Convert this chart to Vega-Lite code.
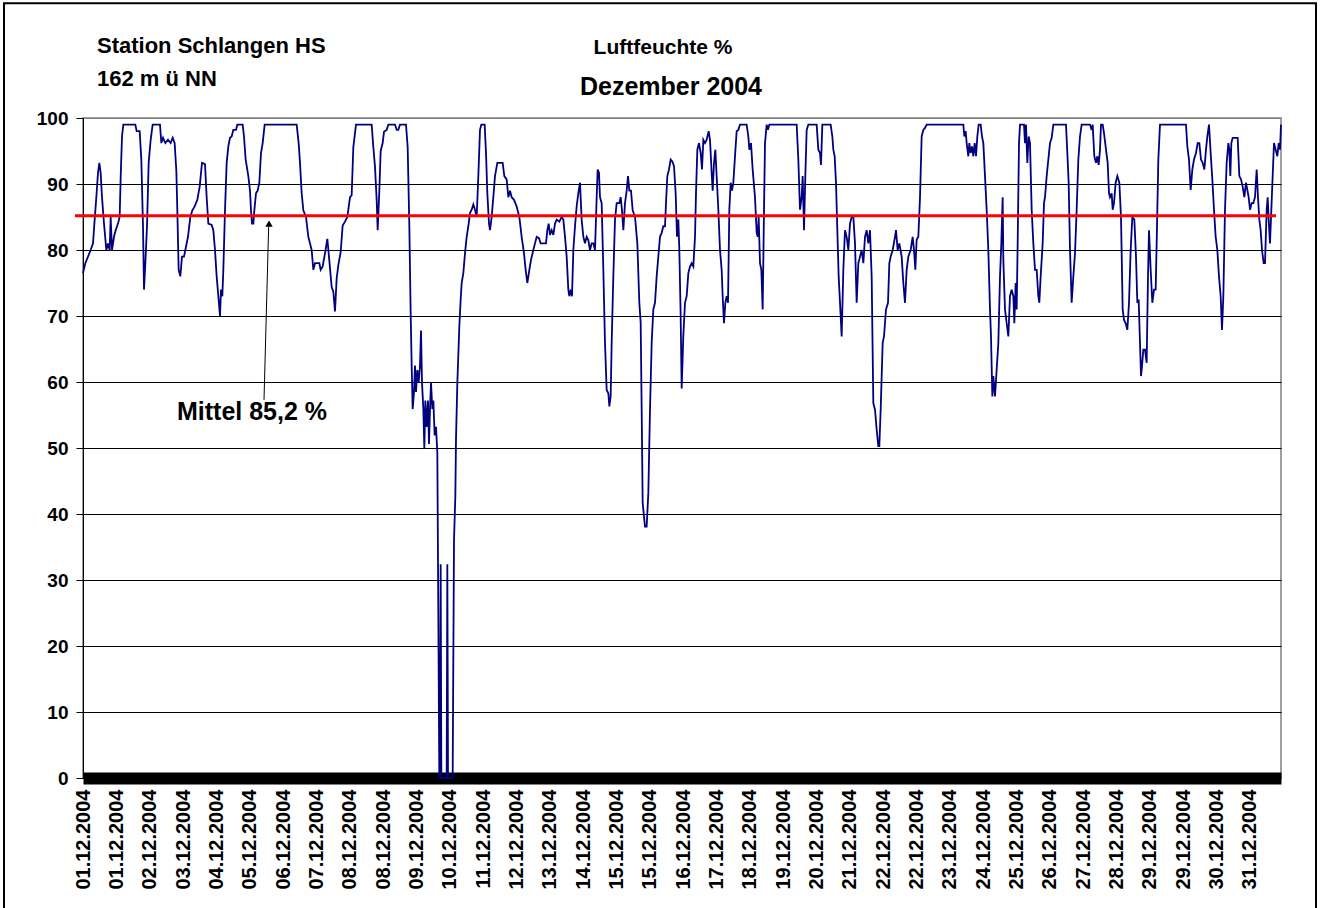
{
"$schema":"https://vega.github.io/schema/vega-lite/v6.json",
"width":1198,"height":660,
"autosize":{"type":"none"},
"padding":{"left":83,"top":118,"right":46,"bottom":130},
"background":"white",
"config":{"view":{"stroke":"#808080","strokeWidth":1.5},"font":"Liberation Sans"},
"layer":[
{"data":{"values":[
{"n":0,"rh":76.5},{"n":7,"rh":78},{"n":15,"rh":79},{"n":23,"rh":80},{"n":30,"rh":81},{"n":35,"rh":84.6},{"n":40,"rh":88},{"n":45,"rh":91.7},{"n":49,"rh":93.2},{"n":53,"rh":91.7},{"n":57,"rh":88},{"n":63,"rh":84},{"n":70,"rh":80},{"n":75,"rh":81},{"n":80,"rh":80},{"n":83,"rh":85},{"n":87,"rh":80},{"n":93,"rh":82},{"n":98,"rh":83},{"n":105,"rh":84},{"n":110,"rh":85},{"n":113,"rh":91},{"n":117,"rh":97.2},{"n":121,"rh":99},{"n":157,"rh":99},{"n":161,"rh":98},{"n":170,"rh":98},{"n":175,"rh":93.7},{"n":180,"rh":83.6},{"n":183,"rh":74},{"n":187,"rh":78},{"n":192,"rh":83.6},{"n":197,"rh":93.2},{"n":203,"rh":96.7},{"n":209,"rh":99},{"n":231,"rh":99},{"n":235,"rh":96.2},{"n":240,"rh":97},{"n":247,"rh":96.2},{"n":255,"rh":96.7},{"n":263,"rh":96.2},{"n":269,"rh":97},{"n":275,"rh":96.2},{"n":280,"rh":92},{"n":283,"rh":86},{"n":287,"rh":77},{"n":292,"rh":76},{"n":297,"rh":79},{"n":303,"rh":79},{"n":307,"rh":80},{"n":315,"rh":82},{"n":322,"rh":85},{"n":328,"rh":86},{"n":335,"rh":86.6},{"n":343,"rh":87.6},{"n":350,"rh":89.6},{"n":357,"rh":93.2},
{"n":366,"rh":93},{"n":371,"rh":88},{"n":376,"rh":84},{"n":386,"rh":83.8},{"n":391,"rh":83},{"n":396,"rh":80},{"n":401,"rh":76},{"n":406,"rh":73},{"n":411,"rh":70},{"n":414,"rh":74},{"n":418,"rh":73},{"n":421,"rh":77},{"n":426,"rh":86},{"n":431,"rh":93.2},{"n":436,"rh":95.7},{"n":441,"rh":97},{"n":446,"rh":97.2},{"n":451,"rh":98.2},{"n":459,"rh":98.2},{"n":463,"rh":99},{"n":479,"rh":99},{"n":483,"rh":97.2},{"n":488,"rh":93.7},{"n":496,"rh":91.2},{"n":501,"rh":89},{"n":504,"rh":86},{"n":507,"rh":84},{"n":511,"rh":84},{"n":514,"rh":86},{"n":519,"rh":88.6},{"n":524,"rh":89},{"n":529,"rh":90.2},{"n":534,"rh":94.7},{"n":539,"rh":96.2},{"n":545,"rh":99},{"n":641,"rh":99},{"n":647,"rh":96.2},{"n":651,"rh":93.2},{"n":656,"rh":88.6},{"n":661,"rh":86},{"n":669,"rh":85},{"n":676,"rh":82},{"n":681,"rh":81},{"n":686,"rh":80},{"n":691,"rh":77},{"n":696,"rh":78},{"n":709,"rh":78},{"n":713,"rh":77},{"n":719,"rh":77.5},
{"n":726,"rh":79.5},{"n":733,"rh":81.7},{"n":739,"rh":78.4},{"n":746,"rh":74.4},{"n":751,"rh":73.7},{"n":756,"rh":70.7},{"n":761,"rh":75.7},{"n":766,"rh":77.7},{"n":773,"rh":79.7},{"n":779,"rh":83.7},{"n":786,"rh":84.3},{"n":793,"rh":85},{"n":801,"rh":88},{"n":806,"rh":88.3},{"n":811,"rh":95.6},{"n":819,"rh":99},{"n":866,"rh":99},{"n":871,"rh":95.6},{"n":876,"rh":92.6},{"n":881,"rh":87.6},{"n":884,"rh":83},{"n":889,"rh":89},{"n":893,"rh":95},{"n":899,"rh":96.2},{"n":903,"rh":97.9},{"n":911,"rh":98.2},{"n":916,"rh":99},{"n":936,"rh":99},{"n":941,"rh":98.2},{"n":946,"rh":98.2},{"n":951,"rh":99},{"n":969,"rh":99},{"n":974,"rh":95.6},{"n":979,"rh":83.7},{"n":983,"rh":70.4},{"n":986,"rh":62.5},{"n":989,"rh":55.9},{"n":993,"rh":58.5},{"n":996,"rh":62.5},{"n":999,"rh":58.5},{"n":1003,"rh":61.8},{"n":1007,"rh":59.9},{"n":1011,"rh":62.5},{"n":1014,"rh":67.8},{"n":1017,"rh":59.9},{"n":1021,"rh":55.9},{"n":1024,"rh":49.9},{"n":1027,"rh":57.2},{"n":1031,"rh":53.2},{"n":1035,"rh":57.2},{"n":1038,"rh":50.6},{"n":1041,"rh":55.9},{"n":1044,"rh":59.9},{"n":1048,"rh":55.9},{"n":1051,"rh":57.2},{"n":1055,"rh":51.9},{"n":1059,"rh":53.2},{"n":1063,"rh":49.3},{"n":1069,"rh":0},{"n":1071,"rh":0},{"n":1073,"rh":32.4},{"n":1075,"rh":0},{"n":1091,"rh":0},{"n":1093,"rh":32.4},{"n":1095,"rh":0},{"n":1109,"rh":0},{"n":1113,"rh":36},{"n":1117,"rh":42.7},{"n":1119,"rh":51.3},{"n":1123,"rh":59.8},{"n":1129,"rh":68.4},{"n":1133,"rh":72.5},{"n":1136,"rh":75},{"n":1141,"rh":76.5},{"n":1146,"rh":79.5},{"n":1151,"rh":82},{"n":1156,"rh":83.6},{"n":1161,"rh":85.6},
{"n":1166,"rh":86.1},{"n":1171,"rh":86.9},{"n":1176,"rh":86.1},{"n":1181,"rh":85},{"n":1186,"rh":91.2},{"n":1191,"rh":98.2},{"n":1195,"rh":99},{"n":1205,"rh":99},{"n":1209,"rh":94.7},{"n":1213,"rh":88.6},{"n":1218,"rh":84},{"n":1221,"rh":83},{"n":1226,"rh":85},{"n":1231,"rh":88},{"n":1236,"rh":91.2},{"n":1243,"rh":93.2},{"n":1259,"rh":93.2},{"n":1264,"rh":91.2},{"n":1271,"rh":90.7},{"n":1276,"rh":88},{"n":1281,"rh":89},{"n":1286,"rh":88},{"n":1293,"rh":87.6},{"n":1301,"rh":86.6},{"n":1309,"rh":85},{"n":1316,"rh":82},{"n":1323,"rh":79.5},{"n":1328,"rh":77},{"n":1333,"rh":75},{"n":1339,"rh":77},{"n":1344,"rh":78.5},{"n":1351,"rh":80},{"n":1356,"rh":81},{"n":1361,"rh":82},{"n":1368,"rh":81.8},{"n":1373,"rh":81},{"n":1389,"rh":81},{"n":1393,"rh":83},{"n":1397,"rh":84},{"n":1401,"rh":82.3},{"n":1406,"rh":83},{"n":1411,"rh":82.3},{"n":1416,"rh":84},{"n":1421,"rh":84.6},{"n":1429,"rh":84.3},{"n":1436,"rh":85},{"n":1441,"rh":84.6},
{"n":1446,"rh":82},{"n":1451,"rh":79},{"n":1456,"rh":74},{"n":1459,"rh":73},{"n":1463,"rh":74},{"n":1467,"rh":73},{"n":1471,"rh":80},{"n":1476,"rh":83.6},{"n":1481,"rh":86.6},{"n":1486,"rh":88.6},{"n":1491,"rh":90.2},{"n":1496,"rh":84.6},{"n":1501,"rh":82},{"n":1506,"rh":81},{"n":1511,"rh":82},{"n":1516,"rh":81.5},{"n":1521,"rh":80},{"n":1526,"rh":81},{"n":1531,"rh":81},{"n":1536,"rh":80},{"n":1541,"rh":88},{"n":1544,"rh":92.2},{"n":1548,"rh":91.7},{"n":1551,"rh":88},{"n":1556,"rh":87.1},{"n":1561,"rh":77},{"n":1566,"rh":65.9},{"n":1571,"rh":58.8},{"n":1576,"rh":58.3},{"n":1579,"rh":56.3},{"n":1583,"rh":57.8},{"n":1586,"rh":65.9},{"n":1591,"rh":76},{"n":1596,"rh":84.6},{"n":1601,"rh":87.1},{"n":1609,"rh":87.1},{"n":1613,"rh":88},{"n":1617,"rh":86},{"n":1621,"rh":83},{"n":1626,"rh":87.1},{"n":1631,"rh":89},{"n":1635,"rh":91.2},{"n":1639,"rh":89},{"n":1644,"rh":89},{"n":1649,"rh":86},{"n":1656,"rh":85},{"n":1663,"rh":81},{"n":1669,"rh":72},{"n":1673,"rh":69},{"n":1676,"rh":55.8},{"n":1679,"rh":41.7},{"n":1683,"rh":39.6},{"n":1686,"rh":38.1},{"n":1691,"rh":38.1},{"n":1696,"rh":43.2},{"n":1701,"rh":55.8},{"n":1706,"rh":65.9},{"n":1711,"rh":71},{"n":1716,"rh":72},{"n":1721,"rh":76},{"n":1726,"rh":79},{"n":1731,"rh":82},{"n":1736,"rh":82.6},{"n":1741,"rh":83.6},{"n":1746,"rh":83.6},{"n":1749,"rh":87.1},{"n":1753,"rh":91.2},{"n":1758,"rh":92.2},{"n":1763,"rh":93.7},{"n":1768,"rh":93.4},{"n":1773,"rh":92.7},{"n":1778,"rh":88.6},{"n":1782,"rh":82},{"n":1786,"rh":84.6},{"n":1789,"rh":80},{"n":1793,"rh":70},
{"n":1796,"rh":59},{"n":1801,"rh":67},{"n":1806,"rh":72},{"n":1811,"rh":73},{"n":1816,"rh":76.5},{"n":1821,"rh":77.5},{"n":1826,"rh":78},{"n":1831,"rh":77.5},{"n":1836,"rh":82},{"n":1839,"rh":88.6},{"n":1843,"rh":95.2},{"n":1848,"rh":96.2},{"n":1853,"rh":94.7},{"n":1857,"rh":92.2},{"n":1861,"rh":96.7},{"n":1866,"rh":96.2},{"n":1871,"rh":96.7},{"n":1877,"rh":98},{"n":1881,"rh":96.7},{"n":1886,"rh":91.7},{"n":1889,"rh":89},{"n":1893,"rh":93.2},{"n":1897,"rh":95.2},{"n":1901,"rh":91.2},{"n":1906,"rh":86.1},{"n":1911,"rh":80},{"n":1916,"rh":77},{"n":1919,"rh":73},{"n":1923,"rh":68.9},{"n":1927,"rh":72},{"n":1931,"rh":73},{"n":1935,"rh":72},{"n":1939,"rh":86.1},{"n":1943,"rh":90.2},{"n":1947,"rh":89},{"n":1951,"rh":90.2},{"n":1956,"rh":94.2},{"n":1961,"rh":98},{"n":1966,"rh":98.2},{"n":1971,"rh":99},{"n":1991,"rh":99},{"n":1996,"rh":97.2},{"n":1999,"rh":95.2},{"n":2004,"rh":96.2},{"n":2009,"rh":92.2},{"n":2016,"rh":88},{"n":2021,"rh":82.6},{"n":2024,"rh":82},{"n":2027,"rh":85},{"n":2031,"rh":78},{"n":2035,"rh":77},{"n":2039,"rh":71},{"n":2043,"rh":86.1},{"n":2046,"rh":96.2},{"n":2051,"rh":99},{"n":2055,"rh":98.2},{"n":2059,"rh":99},{"n":2141,"rh":99},{"n":2146,"rh":93.7},{"n":2151,"rh":86.1},{"n":2156,"rh":88},{"n":2159,"rh":91.2},{"n":2163,"rh":83},{"n":2167,"rh":91.2},{"n":2171,"rh":98.2},{"n":2176,"rh":99},{"n":2201,"rh":99},{"n":2206,"rh":95.2},{"n":2211,"rh":94.7},{"n":2214,"rh":92.9},{"n":2218,"rh":99},{"n":2243,"rh":99},{"n":2248,"rh":97.2},{"n":2251,"rh":95.2},{"n":2255,"rh":94.2},{"n":2259,"rh":90.2},{"n":2263,"rh":83},{"n":2267,"rh":76},{"n":2271,"rh":72},{"n":2276,"rh":66.9},{"n":2281,"rh":77},{"n":2286,"rh":83},{"n":2291,"rh":82},{"n":2296,"rh":80},{"n":2301,"rh":84},{"n":2306,"rh":85},{"n":2311,"rh":85},{"n":2316,"rh":81},{"n":2321,"rh":72},{"n":2326,"rh":78},{"n":2331,"rh":79},{"n":2336,"rh":80},{"n":2341,"rh":78},{"n":2346,"rh":82},{"n":2351,"rh":83},{"n":2356,"rh":81},{"n":2361,"rh":83},{"n":2366,"rh":76},{"n":2371,"rh":56.8},{"n":2376,"rh":55.8},{"n":2381,"rh":52.8},{"n":2386,"rh":50.3},{"n":2389,"rh":50.3},{"n":2393,"rh":55.8},{"n":2399,"rh":65.9},{"n":2403,"rh":66.9},{"n":2409,"rh":71},{"n":2415,"rh":72},{"n":2419,"rh":78},{"n":2423,"rh":79},{"n":2429,"rh":80},{"n":2436,"rh":82},{"n":2439,"rh":83},{"n":2444,"rh":80},{"n":2449,"rh":81},{"n":2456,"rh":79},{"n":2461,"rh":75},{"n":2466,"rh":72},{"n":2471,"rh":77},{"n":2476,"rh":79},{"n":2483,"rh":80},{"n":2489,"rh":82},{"n":2493,"rh":80},{"n":2497,"rh":77},{"n":2501,"rh":81.6},{"n":2506,"rh":82},{"n":2511,"rh":88},{"n":2516,"rh":97.2},{"n":2521,"rh":98.2},{"n":2526,"rh":98.5},{"n":2531,"rh":99},{"n":2641,"rh":99},{"n":2644,"rh":97.2},{"n":2648,"rh":98},{"n":2651,"rh":96.2},{"n":2656,"rh":94.2},{"n":2659,"rh":96.2},{"n":2663,"rh":94.7},{"n":2667,"rh":95.7},{"n":2671,"rh":94.2},{"n":2675,"rh":96.2},{"n":2679,"rh":94.2},{"n":2683,"rh":97.2},{"n":2687,"rh":99},{"n":2693,"rh":99},{"n":2697,"rh":97.2},{"n":2701,"rh":96.2},{"n":2706,"rh":91.2},{"n":2711,"rh":86.1},{"n":2716,"rh":80},{"n":2721,"rh":71},{"n":2724,"rh":66.9},{"n":2728,"rh":57.8},{"n":2731,"rh":60.9},{"n":2736,"rh":57.8},{"n":2741,"rh":61.9},{"n":2746,"rh":65.9},{"n":2751,"rh":76},{"n":2755,"rh":81},{"n":2759,"rh":88},{"n":2761,"rh":78.5},{"n":2766,"rh":71},{"n":2771,"rh":68.9},{"n":2776,"rh":66.9},{"n":2781,"rh":73},{"n":2786,"rh":74},{"n":2791,"rh":73},{"n":2794,"rh":68.9},{"n":2798,"rh":75},{"n":2801,"rh":71},{"n":2804,"rh":81},{"n":2808,"rh":96.2},{"n":2811,"rh":99},{"n":2823,"rh":99},{"n":2826,"rh":96.2},{"n":2829,"rh":99},{"n":2833,"rh":93.2},{"n":2837,"rh":97.2},{"n":2841,"rh":96.2},{"n":2846,"rh":86.1},{"n":2851,"rh":81},{"n":2856,"rh":77},{"n":2861,"rh":77},{"n":2866,"rh":73},{"n":2869,"rh":72},{"n":2873,"rh":76},{"n":2879,"rh":81},{"n":2883,"rh":87.1},{"n":2886,"rh":88},{"n":2891,"rh":91.2},{"n":2896,"rh":93.7},{"n":2901,"rh":96.2},{"n":2906,"rh":97},{"n":2911,"rh":99},{"n":2949,"rh":99},{"n":2953,"rh":94.7},{"n":2957,"rh":90.2},{"n":2961,"rh":80},{"n":2966,"rh":72},{"n":2971,"rh":76},{"n":2976,"rh":79.5},{"n":2981,"rh":86.1},{"n":2986,"rh":93.7},{"n":2991,"rh":97.2},{"n":2996,"rh":99},{"n":3021,"rh":99},{"n":3026,"rh":98.2},{"n":3029,"rh":99},{"n":3034,"rh":94.2},{"n":3039,"rh":93.2},{"n":3043,"rh":94.2},{"n":3047,"rh":92.9},{"n":3051,"rh":95.2},{"n":3054,"rh":99},{"n":3059,"rh":99},{"n":3063,"rh":97.7},{"n":3069,"rh":95.2},{"n":3074,"rh":93.2},{"n":3078,"rh":88.6},{"n":3081,"rh":88},{"n":3086,"rh":88.6},{"n":3089,"rh":86.1},{"n":3093,"rh":87.1},{"n":3098,"rh":90.2},{"n":3103,"rh":91.2},{"n":3109,"rh":90.2},{"n":3114,"rh":85},{"n":3119,"rh":71},{"n":3123,"rh":69.4},{"n":3128,"rh":68.9},{"n":3133,"rh":67.9},{"n":3138,"rh":72},{"n":3143,"rh":80},{"n":3148,"rh":85},{"n":3154,"rh":84.6},{"n":3159,"rh":79},{"n":3163,"rh":72},{"n":3167,"rh":72.5},{"n":3171,"rh":65.9},{"n":3174,"rh":60.9},{"n":3177,"rh":62.4},{"n":3181,"rh":64.9},{"n":3186,"rh":64.9},{"n":3191,"rh":62.9},{"n":3195,"rh":76},{"n":3198,"rh":83},{"n":3203,"rh":77},{"n":3208,"rh":72},{"n":3213,"rh":74},{"n":3218,"rh":74},{"n":3221,"rh":81},{"n":3226,"rh":93.7},{"n":3231,"rh":99},{"n":3309,"rh":99},{"n":3313,"rh":95.7},{"n":3318,"rh":93.7},{"n":3323,"rh":89.1},{"n":3328,"rh":92.2},{"n":3333,"rh":93.7},{"n":3339,"rh":94.7},{"n":3344,"rh":96.2},{"n":3349,"rh":96.2},{"n":3354,"rh":93.7},{"n":3359,"rh":93.2},{"n":3364,"rh":92.2},{"n":3369,"rh":95.2},{"n":3373,"rh":97.2},{"n":3378,"rh":99},{"n":3383,"rh":94.7},{"n":3388,"rh":90.7},{"n":3393,"rh":86.1},{"n":3398,"rh":82},{"n":3403,"rh":80},{"n":3408,"rh":76},{"n":3413,"rh":73},{"n":3417,"rh":67.9},{"n":3421,"rh":73},{"n":3426,"rh":86.1},{"n":3431,"rh":93.2},{"n":3436,"rh":96.2},{"n":3439,"rh":95.2},{"n":3442,"rh":91.2},{"n":3445,"rh":96.2},{"n":3449,"rh":97},{"n":3464,"rh":97},{"n":3469,"rh":91.2},{"n":3474,"rh":90.7},{"n":3479,"rh":89.6},{"n":3484,"rh":88},{"n":3489,"rh":90.2},{"n":3493,"rh":89.1},{"n":3497,"rh":88},{"n":3501,"rh":86.1},{"n":3506,"rh":87.1},{"n":3511,"rh":87.1},{"n":3516,"rh":88},{"n":3521,"rh":92.2},{"n":3525,"rh":88},{"n":3529,"rh":84.6},{"n":3533,"rh":83},{"n":3537,"rh":80},{"n":3542,"rh":78},{"n":3546,"rh":78},{"n":3551,"rh":86.1},{"n":3554,"rh":88},{"n":3557,"rh":84.6},{"n":3561,"rh":81},{"n":3565,"rh":86.1},{"n":3569,"rh":91.2},{"n":3573,"rh":96.2},{"n":3578,"rh":95.2},{"n":3583,"rh":94.2},{"n":3587,"rh":96.2},{"n":3591,"rh":95.2},{"n":3594,"rh":99}
]},
"mark":{"type":"line","color":"#000080","strokeWidth":1.8},
"encoding":{
"x":{"field":"n","type":"quantitative","scale":{"domain":[0,3594],"nice":false,"zero":false},
"axis":{"title":null,"tickCount":100,"values":[0,100,200,300,400,500,600,700,800,900,1000,1100,1200,1300,1400,1500,1600,1700,1800,1900,2000,2100,2200,2300,2400,2500,2600,2700,2800,2900,3000,3100,3200,3300,3400,3500],
"labelExpr":"['01.12.2004','01.12.2004','02.12.2004','03.12.2004','04.12.2004','05.12.2004','06.12.2004','07.12.2004','08.12.2004','08.12.2004','09.12.2004','10.12.2004','11.12.2004','12.12.2004','13.12.2004','14.12.2004','15.12.2004','15.12.2004','16.12.2004','17.12.2004','18.12.2004','19.12.2004','20.12.2004','21.12.2004','22.12.2004','22.12.2004','23.12.2004','24.12.2004','25.12.2004','26.12.2004','27.12.2004','28.12.2004','29.12.2004','29.12.2004','30.12.2004','31.12.2004'][round(datum.value/100)]",
"labelAngle":270,"labelFont":"Liberation Sans","labelFontSize":20,"labelFontWeight":"bold","labelColor":"black","labelOverlap":false,"labelBound":false,"labelFlush":false,"labelPadding":11,"domainColor":"black","domainWidth":12,"ticks":false,"grid":false}},
"y":{"field":"rh","type":"quantitative","scale":{"domain":[0,100],"nice":false},
"axis":{"title":null,"values":[0,10,20,30,40,50,60,70,80,90,100],"labelFont":"Liberation Sans","labelFontSize":19,"labelFontWeight":"bold","labelColor":"black","labelPadding":8,"domainColor":"black","domainWidth":1,"tickColor":"black","tickSize":7,"grid":true,"gridColor":{"condition":{"test":"datum.value === 100","value":"#808080"},"value":"black"},"gridWidth":1,"gridOpacity":1}}
}},
{"data":{"values":[{}]},"mark":{"type":"rule","color":"#ff0000","strokeWidth":3},
"encoding":{"x":{"datum":-24,"type":"quantitative"},"x2":{"datum":3579},"y":{"datum":85.2,"type":"quantitative"}}},
{"data":{"values":[{}]},"mark":{"type":"rule","color":"black","strokeWidth":1},
"encoding":{"x":{"datum":543,"type":"quantitative"},"x2":{"datum":557},"y":{"datum":57.3,"type":"quantitative"},"y2":{"datum":83.6}}},
{"data":{"values":[{}]},"mark":{"type":"point","shape":"triangle-up","filled":true,"color":"black","size":55,"opacity":1},
"encoding":{"x":{"datum":558,"type":"quantitative"},"y":{"datum":84.0,"type":"quantitative"}}},
{"data":{"values":[{}]},"mark":{"type":"text","text":"Mittel 85,2 %","align":"left","baseline":"middle","font":"Liberation Sans","fontSize":25,"fontWeight":"bold","color":"black"},
"encoding":{"x":{"datum":282,"type":"quantitative"},"y":{"datum":55.5,"type":"quantitative"}}},
{"data":{"values":[{}]},"mark":{"type":"text","text":"Station Schlangen HS","align":"left","baseline":"middle","font":"Liberation Sans","fontSize":22,"fontWeight":"bold","color":"black"},
"encoding":{"x":{"datum":42,"type":"quantitative"},"y":{"datum":110.9,"type":"quantitative"}}},
{"data":{"values":[{}]},"mark":{"type":"text","text":"162 m ü NN","align":"left","baseline":"middle","font":"Liberation Sans","fontSize":22,"fontWeight":"bold","color":"black"},
"encoding":{"x":{"datum":42,"type":"quantitative"},"y":{"datum":105.9,"type":"quantitative"}}},
{"data":{"values":[{}]},"mark":{"type":"text","text":"Luftfeuchte %","align":"center","baseline":"middle","font":"Liberation Sans","fontSize":21,"fontWeight":"bold","color":"black"},
"encoding":{"x":{"datum":1740,"type":"quantitative"},"y":{"datum":110.6,"type":"quantitative"}}},
{"data":{"values":[{}]},"mark":{"type":"text","text":"Dezember 2004","align":"center","baseline":"middle","font":"Liberation Sans","fontSize":25,"fontWeight":"bold","color":"black"},
"encoding":{"x":{"datum":1764,"type":"quantitative"},"y":{"datum":104.7,"type":"quantitative"}}},
{"data":{"values":[{}]},"mark":{"type":"rect","fill":null,"fillOpacity":0,"stroke":"black","strokeWidth":2},
"encoding":{"x":{"datum":-237,"type":"quantitative"},"x2":{"datum":3699},"y":{"datum":117.4,"type":"quantitative"},"y2":{"datum":-25}}}
]
}
